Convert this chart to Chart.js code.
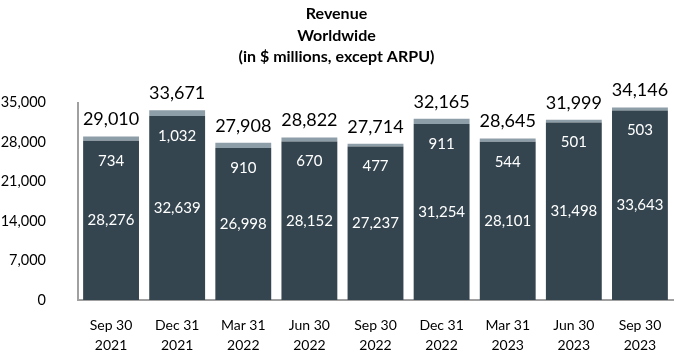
<!DOCTYPE html>
<html>
<head>
<meta charset="utf-8">
<script src="https://cdn.jsdelivr.net/npm/chart.js@4.4.0/dist/chart.umd.min.js"></script>
<style>
html,body{margin:0;padding:0;background:#fff;}
#wrap{width:680px;height:356px;}
</style>
</head>
<body>
<div id="wrap"><canvas id="c" width="680" height="356"></canvas></div>
<script>
const categories = [["Sep 30","2021"],["Dec 31","2021"],["Mar 31","2022"],["Jun 30","2022"],["Sep 30","2022"],["Dec 31","2022"],["Mar 31","2023"],["Jun 30","2023"],["Sep 30","2023"]];
const baseValues = [28276, 32639, 26998, 28152, 27237, 31254, 28101, 31498, 33643];
const topValues = [734, 1032, 910, 670, 477, 911, 544, 501, 503];
const totals = [29010, 33671, 27908, 28822, 27714, 32165, 28645, 31999, 34146];
const yTicks = [0, 7000, 14000, 21000, 28000, 35000];
const titleLines = ["Revenue", "Worldwide", "(in $ millions, except ARPU)"];

const fmt = v => v.toLocaleString('en-US');
const FONT = "Lato, 'Open Sans', sans-serif";

const labelPlugin = {
  id: 'labels',
  afterDatasetsDraw(chart) {
    const ctx = chart.ctx;
    const m0 = chart.getDatasetMeta(0), m1 = chart.getDatasetMeta(1);
    ctx.save();
    ctx.textAlign = 'center';
    ctx.textBaseline = 'middle';
    m0.data.forEach((bar, i) => {
      const topBar = m1.data[i];
      ctx.fillStyle = '#ffffff';
      ctx.font = "15px " + FONT;
      ctx.fillText(fmt(baseValues[i]), bar.x, (bar.y + bar.base) / 2);
      ctx.fillText(fmt(topValues[i]), bar.x, bar.y + 20);
      ctx.fillStyle = '#000000';
      ctx.font = "18px " + FONT;
      ctx.fillText(fmt(totals[i]), bar.x, topBar.y - 17);
    });
    ctx.restore();
  }
};

new Chart(document.getElementById('c'), {
  type: 'bar',
  data: {
    labels: categories,
    datasets: [
      { data: baseValues, backgroundColor: '#34454f', categoryPercentage: 0.845, barPercentage: 1.0 },
      { data: topValues, backgroundColor: '#8e9ea9', categoryPercentage: 0.845, barPercentage: 1.0 }
    ]
  },
  options: {
    responsive: false,
    animation: false,
    layout: { padding: { left: 0, right: 7, top: 3, bottom: 0 } },
    plugins: {
      legend: { display: false },
      tooltip: { enabled: false },
      title: {
        display: true,
        text: titleLines,
        color: '#000',
        font: { family: FONT, size: 16, weight: 'bold', lineHeight: 1.35 },
        padding: { top: 0, bottom: 35 }
      }
    },
    scales: {
      x: {
        stacked: true,
        grid: { display: false },
        border: { display: true, color: '#a0a0a0', width: 2 },
        afterFit: (axis) => { axis.height = 56; },
        ticks: { color: '#000', font: { family: FONT, size: 14, lineHeight: 1.4 }, padding: 8, maxRotation: 0 }
      },
      y: {
        stacked: true,
        min: 0,
        max: 35000,
        afterBuildTicks: (axis) => { axis.ticks = yTicks.map(v => ({ value: v })); },
        afterFit: (axis) => { axis.width = 78; },
        grid: { display: false },
        border: { display: true, color: '#a0a0a0', width: 2 },
        ticks: { color: '#000', font: { family: FONT, size: 14.5 }, padding: 24, callback: v => fmt(v) }
      }
    }
  },
  plugins: [labelPlugin]
});
</script>
</body>
</html>
